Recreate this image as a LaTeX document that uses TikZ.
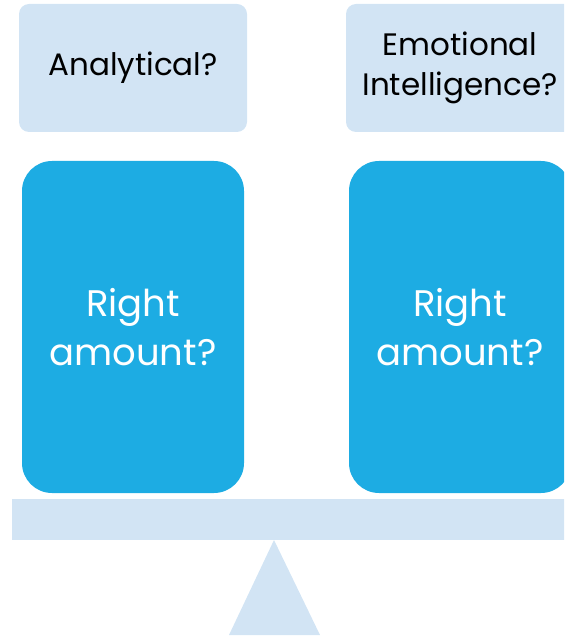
\documentclass[tikz,border=0pt]{standalone}
\usepackage{fontspec}
\setmainfont{Poppins}
\definecolor{paleblue}{HTML}{D2E4F4}
\definecolor{brightblue}{HTML}{1DACE3}
\begin{document}
\begin{tikzpicture}[x=1pt,y=-1pt,
  label box/.style={fill=paleblue, rounded corners=10pt, minimum width=228pt, minimum height=128pt, inner sep=0pt, align=center, font=\fontsize{31}{40}\selectfont},
  amount box/.style={fill=brightblue, rounded corners=30pt, minimum width=222pt, minimum height=332pt, inner sep=0pt, align=center, text=white, font=\fontsize{37}{49}\selectfont}]
\useasboundingbox (0,0) rectangle (564,636);
\clip (0,0) rectangle (564,636);
\node[label box] (analytical) at (133,68) {Analytical?};
\node[label box] (emotional) at (460,68) {Emotional\\Intelligence?};
\node[amount box] (leftamt) at (133,327) {Right\\amount?};
\node[amount box] (rightamt) at (460,327) {Right\\amount?};
% beam and fulcrum
\fill[paleblue] (12,499) rectangle (600,540);
\fill[paleblue] (274,540) -- (320,635) -- (229,635) -- cycle;
\end{tikzpicture}
\end{document}
